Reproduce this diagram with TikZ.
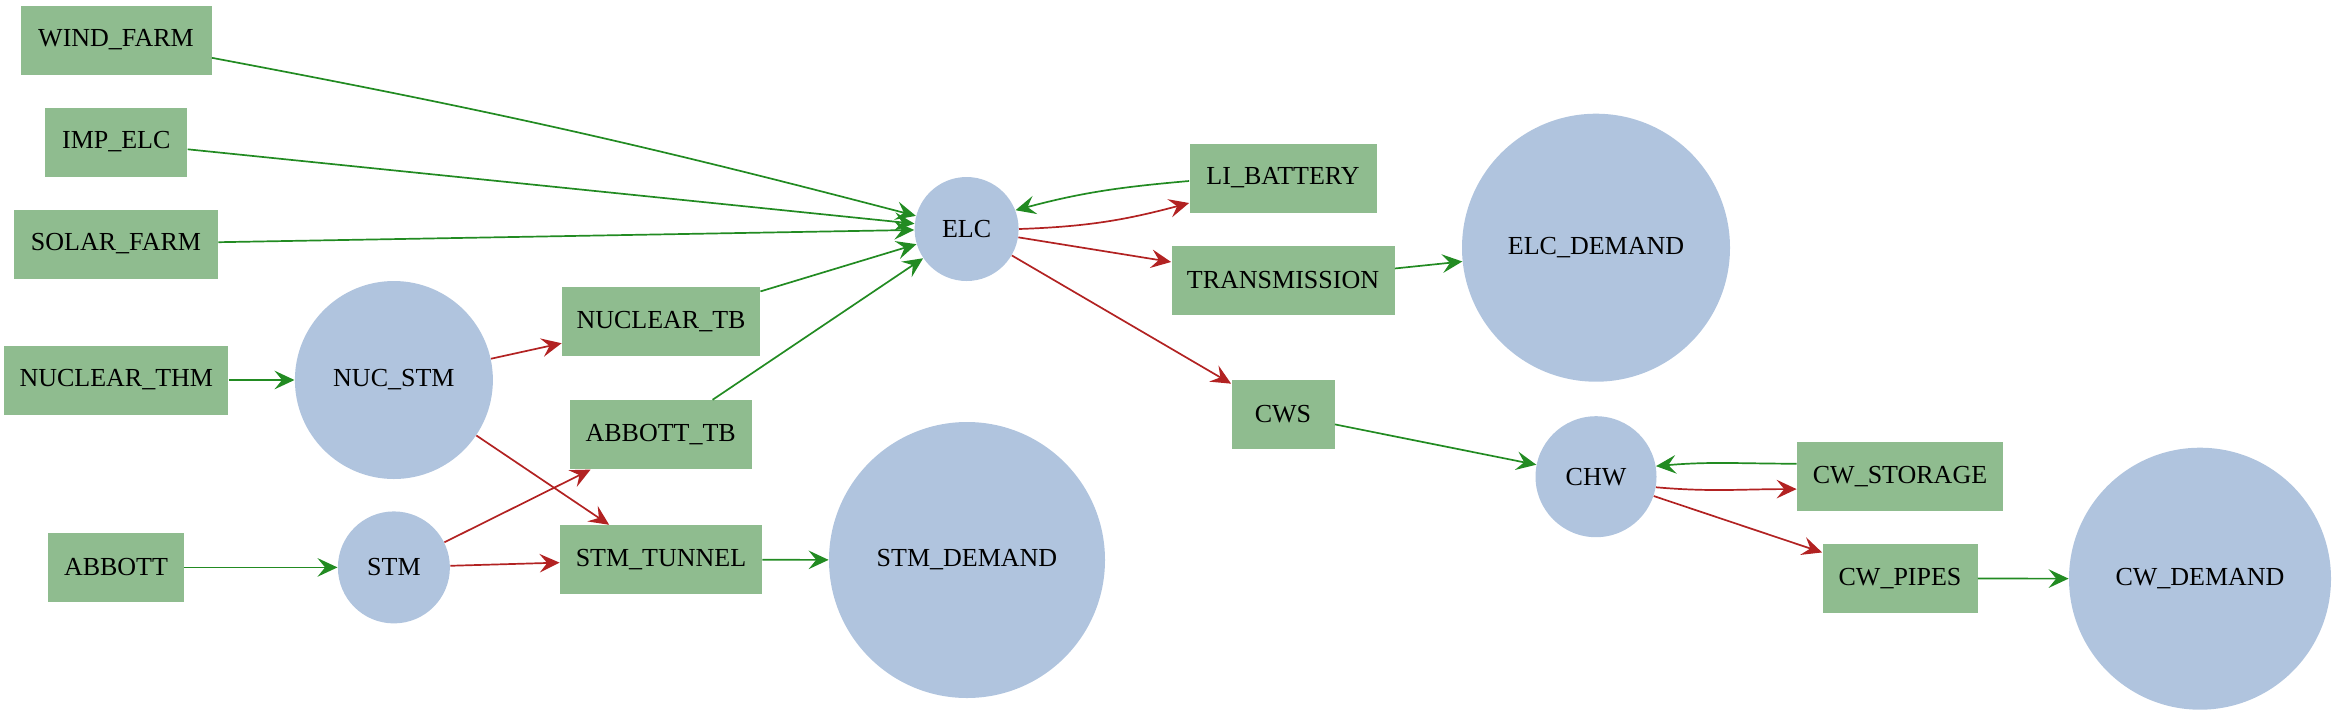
\documentclass[tikz,border=0pt]{standalone}
\usepackage{fontspec}
\setmainfont{Liberation Serif}
\usetikzlibrary{arrows.meta}
\definecolor{boxgreen}{HTML}{8FBC8F}
\definecolor{circblue}{HTML}{B0C4DE}
\definecolor{egreen}{HTML}{228B22}
\definecolor{ered}{HTML}{B22222}
\tikzset{
  proc/.style={rectangle, fill=boxgreen, draw=none, inner sep=0pt, minimum height=34.5pt, font=\fontsize{13}{15}\selectfont},
  comm/.style={circle, fill=circblue, draw=none, inner sep=0pt, font=\fontsize{13}{15}\selectfont},
  garr/.style={draw=egreen, line width=0.85pt, -{Stealth[length=10pt, width=9.3pt, inset=3.8pt]}},
  rarr/.style={draw=ered, line width=0.85pt, -{Stealth[length=10pt, width=9.3pt, inset=3.8pt]}}
}
\begin{document}
\begin{tikzpicture}[x=0.5pt,y=-0.5pt]
\useasboundingbox (0,0) rectangle (2336,714);
% boxes
\node[proc, minimum width=95.5pt] (wind) at (116,40) {WIND\_FARM};
\node[proc, minimum width=71pt] (imp) at (116.3,142) {IMP\_ELC};
\node[proc, minimum width=102pt] (solar) at (116,244) {SOLAR\_FARM};
\node[proc, minimum width=112pt] (nthm) at (116.3,380) {NUCLEAR\_THM};
\node[proc, minimum width=68pt] (abbott) at (116,567.4) {ABBOTT};
\node[proc, minimum width=99pt] (ntb) at (661,321.5) {NUCLEAR\_TB};
\node[proc, minimum width=91pt] (atb) at (660.7,434.7) {ABBOTT\_TB};
\node[proc, minimum width=101pt] (tunnel) at (661,559.7) {STM\_TUNNEL};
\node[proc, minimum width=93.5pt] (li) at (1283,178) {LI\_BATTERY};
\node[proc, minimum width=111.5pt] (trans) at (1283,280) {TRANSMISSION};
\node[proc, minimum width=51.5pt] (cws) at (1283,414) {CWS};
\node[proc, minimum width=103pt] (cwst) at (1900,476.7) {CW\_STORAGE};
\node[proc, minimum width=77.5pt] (cwp) at (1900,578.5) {CW\_PIPES};
% circles
\node[comm, minimum size=99pt] (nucstm) at (393.9,380) {NUC\_STM};
\node[comm, minimum size=56pt] (stm) at (393.9,567.4) {STM};
\node[comm, minimum size=52pt] (elc) at (966.6,229) {ELC};
\node[comm, minimum size=134pt] (elcd) at (1596,247.7) {ELC\_DEMAND};
\node[comm, minimum size=60.5pt] (chw) at (1596,476.7) {CHW};
\node[comm, minimum size=138pt] (stmd) at (967,560) {STM\_DEMAND};
\node[comm, minimum size=131pt] (cwd) at (2200,578.7) {CW\_DEMAND};
% green edges
\draw[garr] (wind) to[bend left=2] (elc);
\draw[garr] (imp) -- (elc);
\draw[garr] (solar) -- (elc);
\draw[garr] (ntb) -- (elc);
\draw[garr] (atb) -- (elc);
\draw[garr] ([yshift=-1.5pt]li.west) to[out=185, in=15] (elc.21);
\draw[garr] (trans) -- (elcd);
\draw[garr] (cws) -- (chw);
\draw[garr] ([yshift=6.5pt]cwst.west) to[out=180, in=5] (chw.10);
\draw[garr] (cwp) -- (cwd);
\draw[garr] (nthm) -- (nucstm);
\draw[garr] (abbott) -- (stm);
\draw[garr] (tunnel) -- (stmd);
% red edges
\draw[rarr] (elc.0) to[out=2, in=195] ([yshift=-12.5pt]li.west);
\draw[rarr] (elc) -- (trans);
\draw[rarr] (elc) -- (cws);
\draw[rarr] (nucstm) -- (ntb);
\draw[rarr] (nucstm) -- (tunnel);
\draw[rarr] (stm) -- (atb);
\draw[rarr] (stm) -- (tunnel);
\draw[rarr] (chw.-10) to[out=-5, in=180] ([yshift=-6.2pt]cwst.west);
\draw[rarr] (chw) -- (cwp);
\end{tikzpicture}
\end{document}
